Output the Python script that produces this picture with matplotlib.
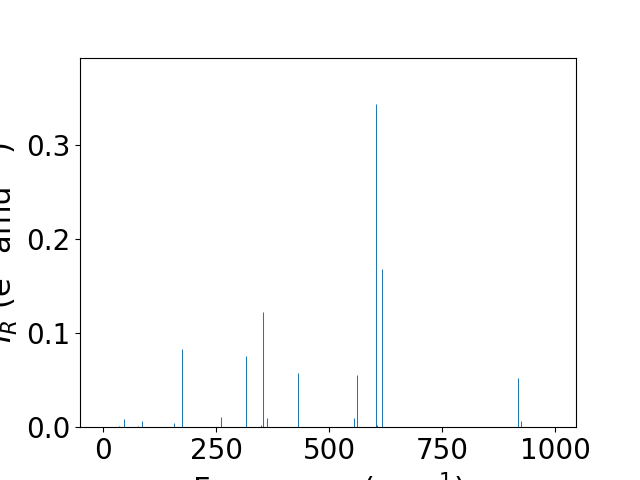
import matplotlib
matplotlib.use("Agg")
import matplotlib.pyplot as plt

frequencies = [35.5, 46.6, 77.6, 86.5, 155.3, 173.0, 261.0, 315.0, 348.0, 352.7,
               361.5, 430.0, 554.5, 561.0, 603.3, 605.0, 616.6, 918.4, 925.0]
intensities = [0.0017, 0.0088, 0.0017, 0.0067, 0.0046, 0.0830, 0.0110, 0.0758, 0.0024, 0.1227,
               0.0099, 0.0578, 0.0099, 0.0556, 0.3436, 0.0024, 0.1684, 0.0521, 0.0067]

plt.rcParams['font.size'] = 20
fig, ax = plt.subplots(figsize=(6.4, 4.8), dpi=100)
ax.vlines(frequencies, 0, intensities, colors='C0', linewidth=0.75)
ax.set_xlim(-51.7, 1046)
ax.set_ylim(0, 0.3926)
ax.set_xticks([0, 250, 500, 750, 1000])
ax.set_yticks([0.0, 0.1, 0.2, 0.3])
ax.set_xlabel('Frequency (cm$^{-1}$)', fontsize=22)
ax.set_ylabel('$I_R$ (e$^2$ amu$^{-1}$)', fontsize=22)
fig.savefig('out.png', dpi=100)
